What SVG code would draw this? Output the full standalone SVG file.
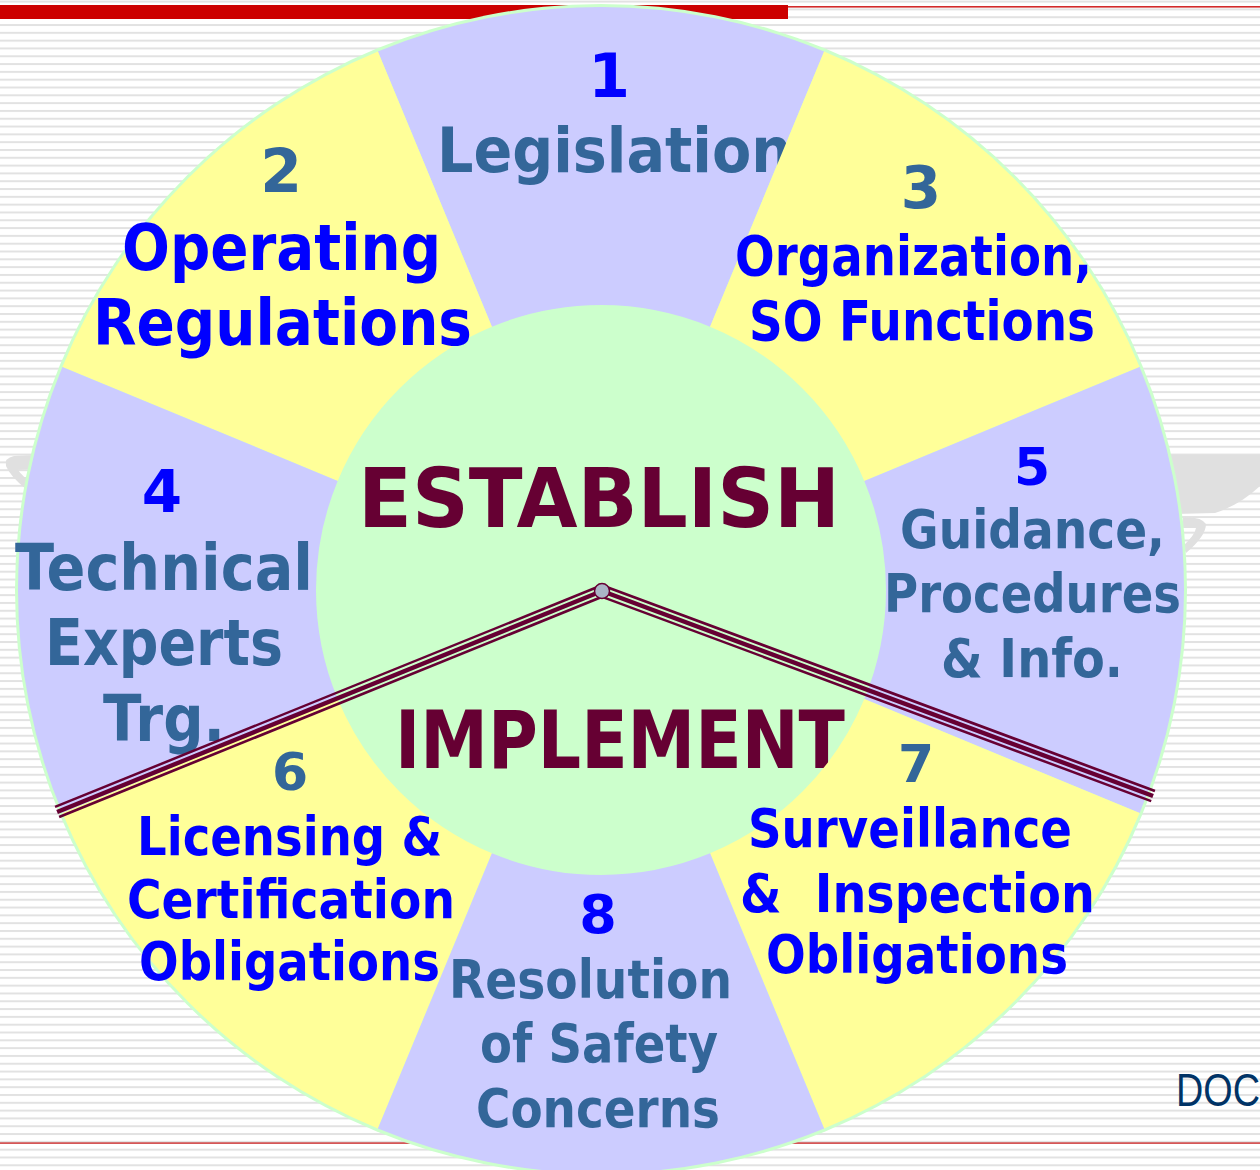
<svg xmlns="http://www.w3.org/2000/svg" xmlns:xlink="http://www.w3.org/1999/xlink" width="1260" height="1170" viewBox="0 0 1260 1170">
<style>
.t{font-family:"DejaVu Sans",Verdana,"Liberation Sans",sans-serif;font-weight:bold;white-space:pre}
.blue{fill:#0000ff}
.steel{fill:#336699}
.maroon{fill:#660033}
.lav{fill:#ccccff}
.yel{fill:#ffff99}
.rail line{stroke:#660033;fill:none}
</style>
<defs>
<pattern id="stripes" x="0" y="0.6" width="20" height="7.81" patternUnits="userSpaceOnUse">
<rect x="0" y="0" width="20" height="2" fill="#e2e2e2"/>
</pattern>
<g id="rail" class="rail">
<line x1="0" y1="-5.4" x2="588" y2="-5.4" stroke-width="2.7"/>
<line x1="0" y1="0" x2="588" y2="0" stroke-width="4.4"/>
<line x1="0" y1="5.4" x2="588" y2="5.4" stroke-width="2.5"/>
</g>
</defs>

<g id="background">
<rect x="0" y="0" width="1260" height="1170" fill="#ffffff"/>
<rect x="0" y="0" width="1260" height="1170" fill="url(#stripes)"/>
<rect x="0" y="5" width="788" height="14" fill="#cc0000"/>
<rect x="788" y="6" width="472" height="1.6" fill="#d22a2a"/>
<rect x="0" y="1142.3" width="1260" height="1.6" fill="#d04444"/>
<path d="M34 455 L14 456 Q4 458 6 466 Q10 476 26 489 L32 490 L33 484 Q22 476 18 470 L34 469 Z" fill="#e0e0e0"/>
<path d="M1168 455 L1260 455 L1260 486 Q1240 505 1215 513 L1175 514 Z" fill="#e0e0e0"/>
<path d="M1183 518 Q1200 516 1206 524 Q1206 536 1186 553 L1183 546 Q1195 535 1196 528 L1183 528 Z" fill="#e0e0e0"/>
<text x="1176" y="1106" font-family="Liberation Sans,Arial,sans-serif" font-size="46" fill="#003366" textLength="84" lengthAdjust="spacingAndGlyphs">DOC</text>
</g>

<g id="wheel-rim">
<circle cx="601" cy="590" r="586" fill="#ccffcc"/>
</g>

<g id="node-center">
<circle cx="601" cy="590" r="285" fill="#ccffcc"/>
<text class="t maroon" x="358" y="527" font-size="82" textLength="482" lengthAdjust="spacingAndGlyphs">ESTABLISH</text>
<text class="t maroon" x="395" y="768" font-size="80" textLength="450" lengthAdjust="spacingAndGlyphs">IMPLEMENT</text>
</g>

<g id="node-1">
<path class="lav" d="M377.9 51.38 A583 583 0 0 1 824.1 51.38 L710.06 326.69 A285 285 0 0 0 491.94 326.69 Z"/>
<text class="t blue" x="609" y="97" font-size="60" text-anchor="middle">1</text>
<text class="t steel" x="437" y="172" font-size="62" textLength="355" lengthAdjust="spacingAndGlyphs">Legislation</text>
</g>

<g id="node-2">
<path class="yel" d="M62.38 366.9 A583 583 0 0 1 377.9 51.38 L491.94 326.69 A285 285 0 0 0 337.69 480.94 Z"/>
<text class="t steel" x="281" y="192" font-size="60" text-anchor="middle">2</text>
<text class="t blue" x="122" y="270" font-size="64" textLength="319" lengthAdjust="spacingAndGlyphs">Operating</text>
<text class="t blue" x="93" y="345" font-size="64" textLength="379" lengthAdjust="spacingAndGlyphs">Regulations</text>
</g>

<g id="node-3">
<path class="yel" d="M824.1 51.38 A583 583 0 0 1 1139.62 366.9 L864.31 480.94 A285 285 0 0 0 710.06 326.69 Z"/>
<text class="t steel" x="921" y="208" font-size="58" text-anchor="middle">3</text>
<text class="t blue" x="735" y="275" font-size="55" textLength="357" lengthAdjust="spacingAndGlyphs">Organization,</text>
<text class="t blue" x="749" y="340" font-size="56" textLength="346" lengthAdjust="spacingAndGlyphs">SO Functions</text>
</g>

<g id="node-4">
<path class="lav" d="M62.38 813.1 A583 583 0 0 1 62.38 366.9 L337.69 480.94 A285 285 0 0 0 337.69 699.06 Z"/>
<text class="t blue" x="162" y="512" font-size="58" text-anchor="middle">4</text>
<text class="t steel" x="15" y="590" font-size="64" textLength="298" lengthAdjust="spacingAndGlyphs">Technical</text>
<text class="t steel" x="45" y="665" font-size="64" textLength="238" lengthAdjust="spacingAndGlyphs">Experts</text>
<text class="t steel" x="103" y="741" font-size="64" textLength="122" lengthAdjust="spacingAndGlyphs">Trg.</text>
</g>

<g id="node-5">
<path class="lav" d="M1139.62 366.9 A583 583 0 0 1 1139.62 813.1 L864.31 699.06 A285 285 0 0 0 864.31 480.94 Z"/>
<text class="t blue" x="1032" y="485" font-size="52" text-anchor="middle">5</text>
<text class="t steel" x="900" y="548" font-size="53" textLength="265" lengthAdjust="spacingAndGlyphs">Guidance,</text>
<text class="t steel" x="884" y="612" font-size="53" textLength="297" lengthAdjust="spacingAndGlyphs">Procedures</text>
<text class="t steel" x="941" y="677" font-size="53" textLength="182" lengthAdjust="spacingAndGlyphs">&amp; Info.</text>
</g>

<g id="node-6">
<path class="yel" d="M377.9 1128.62 A583 583 0 0 1 62.38 813.1 L337.69 699.06 A285 285 0 0 0 491.94 853.31 Z"/>
<text class="t steel" x="290" y="790" font-size="52" text-anchor="middle">6</text>
<text class="t blue" x="137" y="855" font-size="54" textLength="305" lengthAdjust="spacingAndGlyphs">Licensing &amp;</text>
<text class="t blue" x="127" y="918" font-size="54" textLength="328" lengthAdjust="spacingAndGlyphs">Certification</text>
<text class="t blue" x="139" y="980" font-size="54" textLength="301" lengthAdjust="spacingAndGlyphs">Obligations</text>
</g>

<g id="node-7">
<path class="yel" d="M1139.62 813.1 A583 583 0 0 1 824.1 1128.62 L710.06 853.31 A285 285 0 0 0 864.31 699.06 Z"/>
<text class="t steel" x="916" y="782" font-size="52" text-anchor="middle">7</text>
<text class="t blue" x="748" y="847" font-size="54" textLength="324" lengthAdjust="spacingAndGlyphs">Surveillance</text>
<text class="t blue" x="740" y="912" font-size="54" textLength="355" lengthAdjust="spacingAndGlyphs">&amp;  Inspection</text>
<text class="t blue" x="766" y="973" font-size="54" textLength="302" lengthAdjust="spacingAndGlyphs">Obligations</text>
</g>

<g id="node-8">
<path class="lav" d="M824.1 1128.62 A583 583 0 0 1 377.9 1128.62 L491.94 853.31 A285 285 0 0 0 710.06 853.31 Z"/>
<text class="t blue" x="598" y="933" font-size="54" text-anchor="middle">8</text>
<text class="t steel" x="449" y="998" font-size="54" textLength="283" lengthAdjust="spacingAndGlyphs">Resolution</text>
<text class="t steel" x="480" y="1062" font-size="54" textLength="238" lengthAdjust="spacingAndGlyphs">of Safety</text>
<text class="t steel" x="476" y="1127" font-size="54" textLength="244" lengthAdjust="spacingAndGlyphs">Concerns</text>
</g>

<g id="connectors">
<use xlink:href="#rail" href="#rail" transform="translate(602 591) rotate(157.93)"/>
<use xlink:href="#rail" href="#rail" transform="translate(602 591) rotate(20.41)"/>
<circle cx="602" cy="591" r="7.5" fill="#aab4c6" stroke="#660033" stroke-width="1.5"/>
</g>
</svg>
